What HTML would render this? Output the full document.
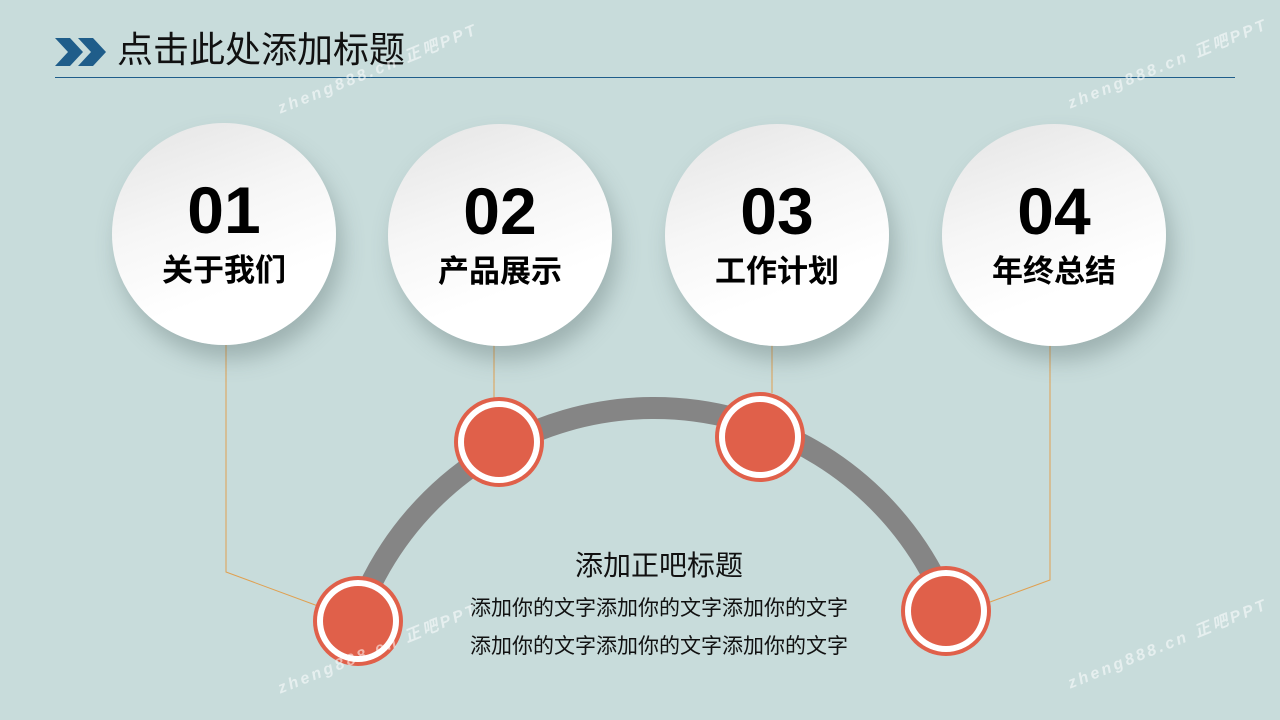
<!DOCTYPE html>
<html><head><meta charset="utf-8"><style>
html,body{margin:0;padding:0}
body{width:1280px;height:720px;background:#c8dcdb;position:relative;overflow:hidden;font-family:"Liberation Sans","Noto Sans CJK SC",sans-serif}
.t{position:absolute;left:117px;top:26px;font-size:36px;color:#111;line-height:48px}
.hl{position:absolute;left:55px;top:77px;width:1180px;height:1px;background:#1f5d8a}
.big{position:absolute;width:224px;height:222px;border-radius:50%;background:linear-gradient(160deg,#e4e4e4 0%,#f6f6f6 40%,#fff 70%,#fff 100%);box-shadow:6px 14px 22px rgba(80,100,100,.35);text-align:center}
.big .n{font-size:66px;font-weight:bold;color:#000;margin-top:52px;line-height:70px}
.big .l{font-size:31px;font-weight:bold;color:#000;margin-top:6px;line-height:40px}
.wm{position:absolute;color:rgba(255,255,255,.55);font-size:16px;font-style:italic;font-weight:bold;letter-spacing:3px;transform:rotate(-22deg);white-space:nowrap}
.tx{position:absolute;left:409px;width:500px;text-align:center;color:#111}
</style></head><body>
<svg width="1280" height="720" style="position:absolute;left:0;top:0">
<polygon points="55,38 70,38 83,52 70,66 55,66 68,52" fill="#1f5d8a"/>
<polygon points="78,38 93,38 106,52 93,66 78,66 91,52" fill="#1f5d8a"/>
<g stroke="#e0a050" stroke-width="1" fill="none">
<polyline points="226,345 226,572 318,606"/>
<line x1="494" y1="345" x2="494" y2="400"/>
<line x1="772" y1="345" x2="772" y2="393"/>
<polyline points="1050,345 1050,580 990,602"/>
</g>
<path d="M 368 590 A 316 316 0 0 1 938 585" stroke="#858585" stroke-width="22" fill="none"/>
<g>
<circle cx="358" cy="621" r="45" fill="#e0604a"/><circle cx="358" cy="621" r="41" fill="#fff"/><circle cx="358" cy="621" r="35" fill="#e0604a"/>
<circle cx="499" cy="442" r="45" fill="#e0604a"/><circle cx="499" cy="442" r="41" fill="#fff"/><circle cx="499" cy="442" r="35" fill="#e0604a"/>
<circle cx="760" cy="437" r="45" fill="#e0604a"/><circle cx="760" cy="437" r="41" fill="#fff"/><circle cx="760" cy="437" r="35" fill="#e0604a"/>
<circle cx="946" cy="611" r="45" fill="#e0604a"/><circle cx="946" cy="611" r="41" fill="#fff"/><circle cx="946" cy="611" r="35" fill="#e0604a"/>
</g>
</svg>
<div class="t">点击此处添加标题</div>
<div class="hl"></div>
<div class="big" style="left:112px;top:123px"><div class="n">01</div><div class="l">关于我们</div></div>
<div class="big" style="left:388px;top:124px"><div class="n">02</div><div class="l">产品展示</div></div>
<div class="big" style="left:665px;top:124px"><div class="n">03</div><div class="l">工作计划</div></div>
<div class="big" style="left:942px;top:124px"><div class="n">04</div><div class="l">年终总结</div></div>
<div class="tx" style="top:547px;font-size:28px;line-height:38px">添加正吧标题</div>
<div class="tx" style="top:594px;font-size:21px;line-height:30px">添加你的文字添加你的文字添加你的文字</div>
<div class="tx" style="top:632px;font-size:21px;line-height:30px">添加你的文字添加你的文字添加你的文字</div>
<div class="wm" style="left:270px;top:55px">zheng888.cn 正吧PPT</div>
<div class="wm" style="left:1060px;top:50px">zheng888.cn 正吧PPT</div>
<div class="wm" style="left:270px;top:635px">zheng888.cn 正吧PPT</div>
<div class="wm" style="left:1060px;top:630px">zheng888.cn 正吧PPT</div>
</body></html>
